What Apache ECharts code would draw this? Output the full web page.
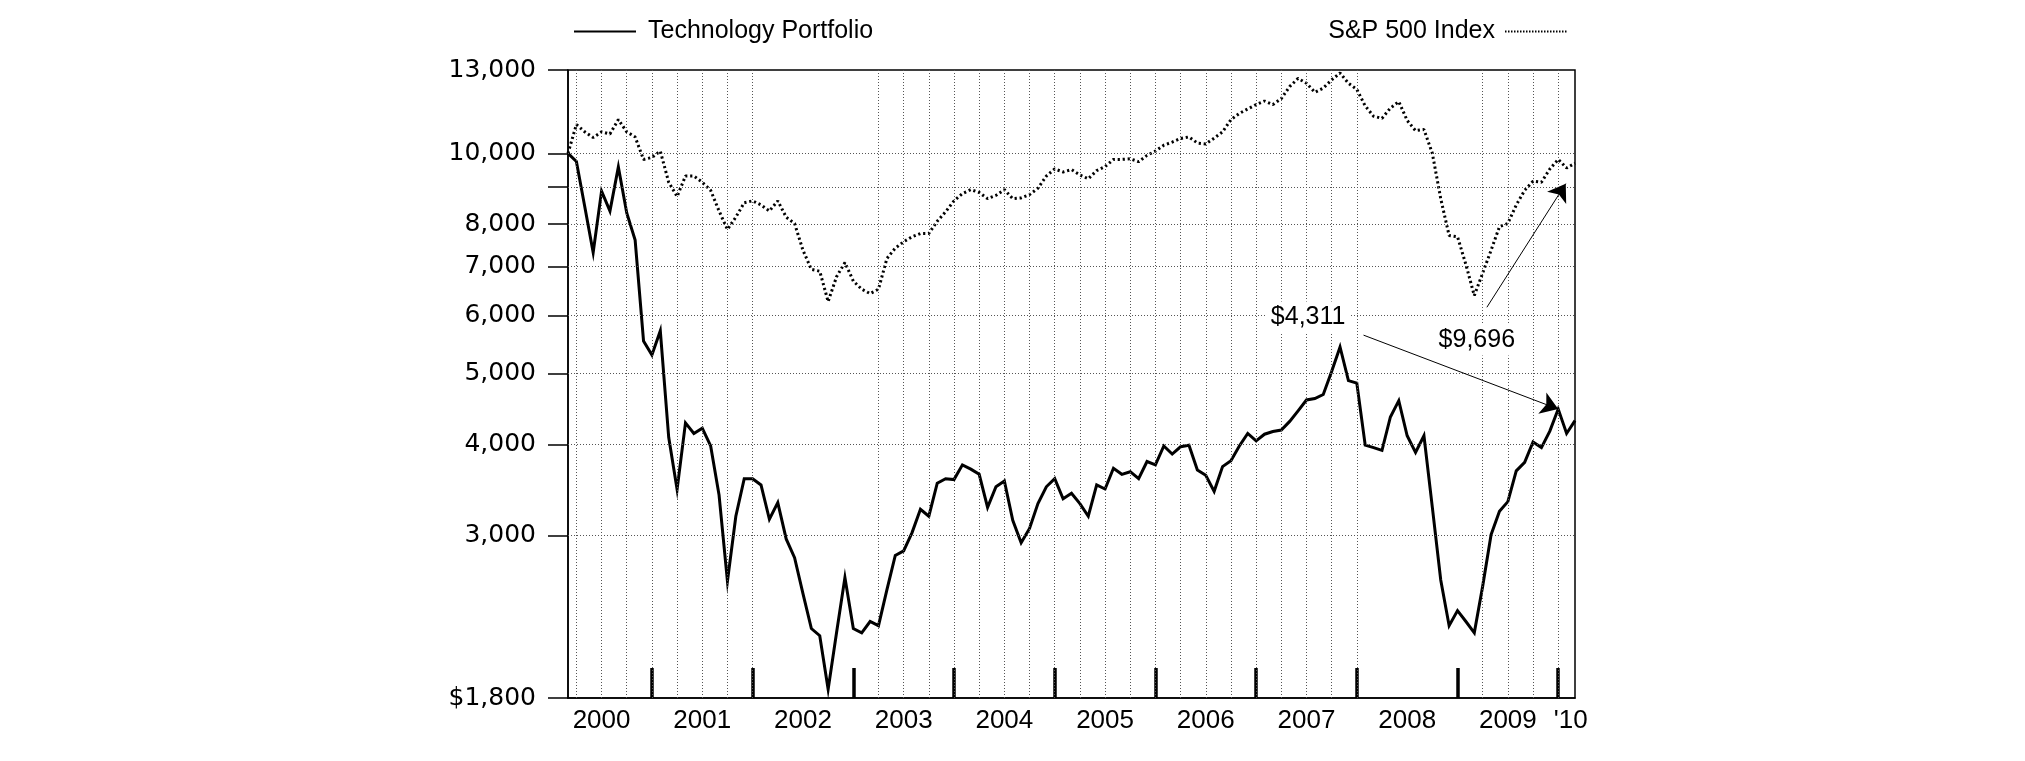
<!DOCTYPE html>
<html><head><meta charset="utf-8">
<script src="https://cdn.jsdelivr.net/npm/echarts@6/dist/echarts.min.js"></script>
<style>html,body{margin:0;padding:0;background:#fff}#c{width:2025px;height:761px}</style>
</head><body><div id="c"></div>
<script>
// Month-end observations, Feb 2000 .. Feb 2010 (index 0 .. 120)
const months = [];
for (let i = 0; i < 121; i++) {
  const m = (1 + i) % 12 + 1;
  const y = 2000 + Math.floor((1 + i) / 12);
  months.push(y + '-' + String(m).padStart(2, '0'));
}

const techPortfolio = [
  10000, 9750, 8450, 7320, 8880, 8340, 9580, 8290, 7610, 5540, 5300, 5720,
  4090, 3470, 4280, 4140, 4210, 3980, 3410, 2600, 3190, 3590, 3590, 3520,
  3160, 3330, 2970, 2800, 2500, 2240, 2190, 1850, 2210, 2630, 2240, 2210,
  2290, 2260, 2530, 2820, 2860, 3030, 3260, 3190, 3540, 3590, 3580, 3750,
  3700, 3640, 3280, 3500, 3565, 3150, 2935, 3070, 3320, 3500, 3590, 3370,
  3430, 3320, 3190, 3520, 3475, 3710, 3640, 3670, 3590, 3790, 3750, 3980,
  3880, 3970, 3990, 3690, 3630, 3450, 3730, 3800, 3980, 4140, 4045, 4130,
  4165, 4185, 4300, 4445, 4600, 4620, 4680, 5030, 5435, 4890, 4850, 3990,
  3960, 3925, 4360, 4590, 4110, 3900, 4110, 3280, 2610, 2260, 2370, 2290,
  2210, 2560, 3010, 3240, 3340, 3680, 3780, 4030, 3960, 4170, 4470, 4140,
  4311
];

const sp500 = [
  10000, 10950, 10700, 10510, 10700, 10630, 11120, 10700, 10530, 9810, 9870, 10070,
  9130, 8730, 9310, 9310, 9130, 8900, 8340, 7870, 8180, 8560, 8610, 8500,
  8340, 8610, 8180, 8020, 7370, 6940, 6900, 6270, 6780, 7090, 6690, 6520,
  6430, 6520, 7180, 7420, 7570, 7690, 7770, 7770, 8075, 8320, 8610, 8810,
  8920, 8840, 8670, 8760, 8920, 8670, 8690, 8780, 8960, 9310, 9520, 9430,
  9500, 9340, 9230, 9470, 9590, 9810, 9810, 9830, 9740, 9935, 10070, 10260,
  10360, 10480, 10530, 10330, 10300, 10490, 10700, 11120, 11340, 11500, 11660, 11790,
  11660, 11880, 12340, 12660, 12470, 12120, 12280, 12600, 12880, 12470, 12230, 11610,
  11240, 11165, 11530, 11770, 11090, 10740, 10780, 10000, 8670, 7720, 7690, 7045,
  6390, 6860, 7370, 7940, 8020, 8500, 8900, 9160, 9130, 9520, 9810, 9550,
  9696
];

const yTickValues = [1800, 3000, 4000, 5000, 6000, 7000, 8000, 9000, 10000, 13000];
const yLabelValues = [1800, 3000, 4000, 5000, 6000, 7000, 8000, 10000, 13000];
const yGridValues = [3000, 4000, 5000, 6000, 7000, 8000, 9000, 10000];

const yearLabels = ['2000', '2001', '2002', '2003', '2004', '2005', '2006', '2007', '2008', '2009', "'10"];
const yearLabelPos = [4, 16, 28, 40, 52, 64, 76, 88, 100, 112, 119.5];
const yearEndPos = [10, 22, 34, 46, 58, 70, 82, 94, 106, 118];
const quarterGridPos = [1, 4, 7, 10, 13, 16, 19, 22, 37, 40, 43, 46, 49, 52, 55, 58, 61, 64, 67, 70,
  73, 76, 79, 82, 85, 88, 91, 94, 109, 112, 115, 118];

// annotation anchors (month index, value)
const techCallout = { label: [88.2, 5972], from: [94.8, 5642], to: [118, 4470] };
const spCallout = { label: [108.3, 5556], from: [109.5, 6159], to: [118.9, 9090] };

function fmtNum(v) {
  return String(Math.round(v)).replace(/\B(?=(\d{3})+(?!\d))/g, ',');
}

const chart = echarts.init(document.getElementById('c'), null, { renderer: 'canvas' });
const gridStyle = { color: '#555', type: [1, 2], width: 1 };
const labelFont = 'Liberation Sans';

chart.setOption({
  animation: false,
  backgroundColor: '#fff',
  grid: { left: 568, right: 450, top: 70, bottom: 63, show: true, borderColor: '#000', borderWidth: 1.5, backgroundColor: 'transparent' },
  legend: [
    {
      data: ['Technology Portfolio'], left: 568, top: 14, itemWidth: 62, itemHeight: 16,
      selectedMode: false,
      itemStyle: { opacity: 0 },
      lineStyle: { width: 2, color: '#000' },
      textStyle: { fontSize: 25, fontFamily: labelFont, color: '#000', padding: [0, 0, 0, 7] }
    },
    {
      data: ['S&P 500 Index'], right: 452, top: 14, itemWidth: 62, itemHeight: 16, align: 'right',
      selectedMode: false,
      itemStyle: { opacity: 0 },
      lineStyle: { width: 2, color: '#000', type: [1.5, 1.5] },
      textStyle: { fontSize: 25, fontFamily: labelFont, color: '#000', padding: [0, 5, 0, 0] }
    }
  ],
  xAxis: {
    type: 'value', min: 0, max: 120,
    axisLine: { show: true, lineStyle: { color: '#000', width: 1.5 } },
    axisTick: { show: true, inside: true, length: 30, customValues: yearEndPos, lineStyle: { color: '#000', width: 3.5 } },
    axisLabel: {
      show: true, customValues: yearLabelPos, margin: 10,
      fontSize: 26, fontFamily: labelFont, color: '#000',
      formatter: function (v) { const k = yearLabelPos.indexOf(v); return k >= 0 ? yearLabels[k] : ''; }
    },
    splitLine: { show: false }
  },
  yAxis: {
    type: 'log', logBase: 10, min: 1800, max: 13000,
    axisLine: { show: true, lineStyle: { color: '#000', width: 1.5 } },
    axisTick: { show: true, inside: false, length: 20, customValues: yTickValues, lineStyle: { color: '#000', width: 1.5 } },
    axisLabel: {
      show: true, customValues: yLabelValues, margin: 32,
      fontSize: 25, fontFamily: 'DejaVu Sans', color: '#000',
      formatter: function (v) { return (Math.round(v) === 1800 ? '$' : '') + fmtNum(v); }
    },
    splitLine: { show: false },
    minorTick: { show: false }, minorSplitLine: { show: false }
  },
  series: [
    {
      name: 'grid', type: 'line', data: [], silent: true, z: 1,
      markLine: {
        silent: true, symbol: 'none', animation: false,
        label: { show: false },
        lineStyle: gridStyle,
        data: quarterGridPos.map(v => ({ xAxis: v })).concat(yGridValues.map(v => ({ yAxis: v })))
      }
    },
    {
      name: 'Technology Portfolio', type: 'line', z: 4,
      data: techPortfolio.map((v, i) => [i, v]),
      symbol: 'none', showSymbol: false,
      lineStyle: { color: '#000', width: 3, join: 'miter' },
      itemStyle: { color: '#000' },
      markLine: {
        silent: true, symbol: ['none', 'arrow'], symbolSize: 17, animation: false,
        label: { show: false },
        itemStyle: { color: '#000' },
        lineStyle: { color: '#000', width: 1, type: 'solid', opacity: 1 },
        data: [[{ coord: techCallout.from }, { coord: techCallout.to }]]
      },
      markPoint: {
        silent: true, symbol: 'circle', symbolSize: 1, animation: false,
        itemStyle: { color: 'rgba(0,0,0,0)' },
        label: {
          show: true, position: 'inside', color: '#000', fontSize: 25, fontFamily: labelFont,
          backgroundColor: '#fff', padding: [3, 4],
          formatter: function () { return '$' + fmtNum(techPortfolio[techPortfolio.length - 1]); }
        },
        data: [{ coord: techCallout.label }]
      }
    },
    {
      name: 'S&P 500 Index', type: 'line', z: 3,
      data: sp500.map((v, i) => [i, v]),
      symbol: 'none', showSymbol: false,
      lineStyle: { color: '#000', width: 3, type: [2.2, 2.8] },
      itemStyle: { color: '#000' },
      markLine: {
        silent: true, symbol: ['none', 'arrow'], symbolSize: 17, animation: false,
        label: { show: false },
        itemStyle: { color: '#000' },
        lineStyle: { color: '#000', width: 1, type: 'solid', opacity: 1 },
        data: [[{ coord: spCallout.from }, { coord: spCallout.to }]]
      },
      markPoint: {
        silent: true, symbol: 'circle', symbolSize: 1, animation: false,
        itemStyle: { color: 'rgba(0,0,0,0)' },
        label: {
          show: true, position: 'inside', color: '#000', fontSize: 25, fontFamily: labelFont,
          backgroundColor: '#fff', padding: [3, 4],
          formatter: function () { return '$' + fmtNum(sp500[sp500.length - 1]); }
        },
        data: [{ coord: spCallout.label }]
      }
    }
  ]
});
</script>
</body></html>
